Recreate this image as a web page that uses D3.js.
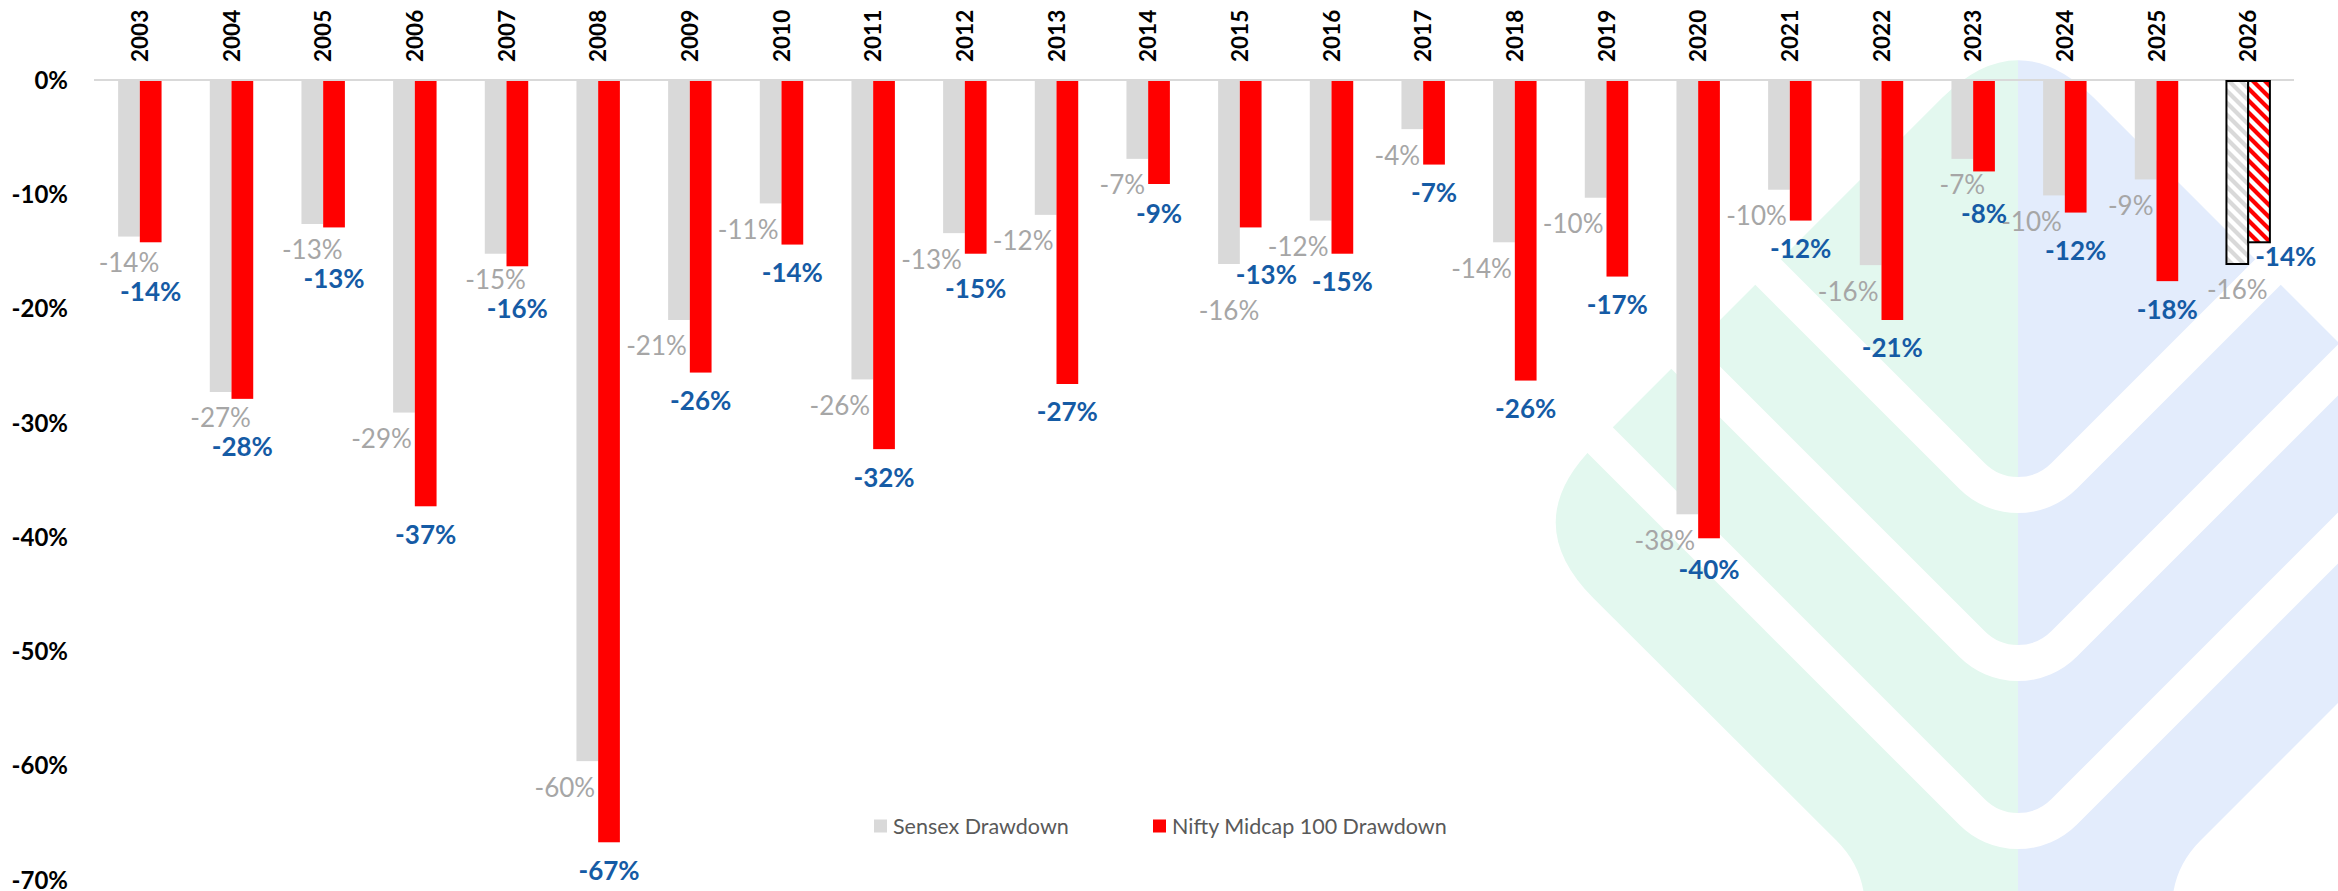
<!DOCTYPE html>
<html><head><meta charset="utf-8">
<script src="https://cdn.jsdelivr.net/npm/d3@7"></script>
<style>
html,body{margin:0;padding:0;background:#fff;}
svg{display:block;font-family:Lato,"Open Sans",sans-serif;}
</style></head><body>
<svg id="chart" width="2338" height="891"></svg>
<script>
// ---------------- data ----------------
const years = ["2003","2004","2005","2006","2007","2008","2009","2010","2011","2012","2013","2014",
               "2015","2016","2017","2018","2019","2020","2021","2022","2023","2024","2025","2026"];
const sensexDrawdown = [-13.7,-27.3,-12.6,-29.1,-15.2,-59.6,-21.0,-10.8,-26.2,-13.4,-11.8,-6.9,
                        -16.1,-12.3,-4.3,-14.2,-10.3,-38.0,-9.6,-16.2,-6.9,-10.1,-8.7,-16.1];
const midcapDrawdown = [-14.2,-27.9,-12.9,-37.3,-16.3,-66.7,-25.6,-14.4,-32.3,-15.2,-26.6,-9.1,
                        -12.9,-15.2,-7.4,-26.3,-17.2,-40.1,-12.3,-21.0,-8.0,-11.6,-17.6,-14.2];
const yTicks = [0,-10,-20,-30,-40,-50,-60,-70];
const seriesNames = ["Sensex Drawdown","Nifty Midcap 100 Drawdown"];
const partialYears = ["2026"];

// ---------------- setup ----------------
const svg = d3.select("#chart");
const defs = svg.append("defs");
const pct = v => `${Math.round(v)}%`;

// ---------------- watermark (decorative logo) ----------------
function roundedPath(pts){
  const n = pts.length; const seg = [];
  for(let i=0;i<n;i++){
    const [vx,vy,r] = pts[i];
    const p = pts[(i-1+n)%n], q = pts[(i+1)%n];
    const l1 = Math.hypot(p[0]-vx,p[1]-vy), l2 = Math.hypot(q[0]-vx,q[1]-vy);
    seg.push({a:[vx+(p[0]-vx)/l1*r, vy+(p[1]-vy)/l1*r], b:[vx+(q[0]-vx)/l2*r, vy+(q[1]-vy)/l2*r], v:[vx,vy]});
  }
  let d = `M${seg[0].b[0]},${seg[0].b[1]}`;
  for(let i=1;i<=n;i++){
    const s = seg[i%n];
    d += `L${s.a[0]},${s.a[1]}Q${s.v[0]},${s.v[1]} ${s.b[0]},${s.b[1]}`;
  }
  return d + "Z";
}
const logoPts = [[2018,22,108],[2518.5,522.5,108],[2172,869,40],[2172,1100,0],
                 [1865,1100,0],[1865,869,40],[1517.5,522.5,108]];
defs.append("clipPath").attr("id","logoClip").append("path").attr("d",roundedPath(logoPts));
const wm = svg.append("g").attr("class","watermark");
const wmc = wm.append("g").attr("clip-path","url(#logoClip)");
wmc.append("rect").attr("x",1400).attr("y",0).attr("width",618).attr("height",891).attr("fill","#e3f8ef");
wmc.append("rect").attr("x",2018).attr("y",0).attr("width",400).attr("height",891).attr("fill","#e3ecfc");
const rV = 65, L = 700, s2 = Math.SQRT2;
[522,690,858].forEach(A=>{
  const d = `M${2018-L},${A-L}L${2018-rV/s2},${A-rV/s2}A${rV},${rV} 0 0 0 ${2018+rV/s2},${A-rV/s2}L${2018+L},${A-L}`;
  wm.append("path").attr("d",d).attr("fill","none").attr("stroke","#fff").attr("stroke-width",36);
});

// ---------------- scales ----------------
const x = d3.scaleBand().domain(years).range([94,2294]).paddingInner(0).paddingOuter(0);
const barW = x.bandwidth()*0.237;
const xs = d3.scaleBand().domain(["sensex","midcap"]).range([-barW,barW]);
const y = d3.scaleLinear().domain([-70,0]).range([880,80]);

// patterns for partial year
function hatch(id,color){
  const p = defs.append("pattern").attr("id",id).attr("patternUnits","userSpaceOnUse")
    .attr("width",12).attr("height",12);
  p.append("rect").attr("width",12).attr("height",12).attr("fill","#fff");
  p.append("path").attr("d","M-6,6L6,18M0,0L12,12M6,-6L18,6")
    .attr("stroke",color).attr("stroke-width",4.2);
}
hatch("hatchGray","#d9d9d9");
hatch("hatchRed","#ff0000");

// zero line
svg.append("line").attr("x1",x.range()[0]).attr("x2",x.range()[1])
  .attr("y1",y(0)).attr("y2",y(0)).attr("stroke","#d9d9d9").attr("stroke-width",2);

// y axis
const yAxis = svg.append("g").attr("transform","translate(68,0)")
  .call(d3.axisLeft(y).tickValues(yTicks).tickFormat(d=>`${d}%`).tickSize(0).tickPadding(0));
yAxis.select(".domain").remove();
yAxis.selectAll("text").attr("font-family","Lato, sans-serif").attr("font-size",24)
  .attr("font-weight","bold").attr("fill","#000").attr("dy","0.34em");

// x axis (year labels, rotated, at top)
const xAxis = svg.append("g").attr("transform","translate(0,62)")
  .call(d3.axisTop(x).tickSize(0).tickPadding(0));
xAxis.select(".domain").remove();
xAxis.selectAll("text").attr("x",0).attr("y",0).attr("dy","0.36em")
  .attr("transform","rotate(-90)").style("text-anchor","start")
  .attr("font-family","Lato, sans-serif").attr("font-size",22.5).attr("font-weight","bold").attr("fill","#000");

// bars
const rows = years.map((yr,i)=>({yr, sensex:sensexDrawdown[i], midcap:midcapDrawdown[i], partial: partialYears.includes(yr)}));
const cx = yr => x(yr)+x.bandwidth()/2;
const barsG = svg.append("g");
const series = [
  {key:"sensex", color:"#d9d9d9", pat:"url(#hatchGray)"},
  {key:"midcap", color:"#ff0000", pat:"url(#hatchRed)"}
];
series.forEach(s=>{
  barsG.selectAll(null).data(rows).join("rect")
    .attr("x",d=>cx(d.yr)+xs(s.key))
    .attr("y",y(0)+1)
    .attr("width",barW)
    .attr("height",d=>y(d[s.key])-y(0)-1)
    .attr("fill",d=>d.partial? s.pat : s.color)
    .attr("stroke",d=>d.partial? "#000":"none")
    .attr("stroke-width",d=>d.partial? 2:0);
});

// data labels: pass 1 (Sensex labels, default placement)
const labG = svg.append("g").attr("font-family","Lato, sans-serif").attr("font-size",26);
const hT = 19;
const info = rows.map(d=>{
  const c = cx(d.yr);
  const gL = c+xs("sensex"), gR = gL+barW, rL = c+xs("midcap"), rR = rL+barW;
  const gB = y(d.sensex), rB = y(d.midcap);
  const gt = labG.append("text").text(pct(d.sensex)).attr("fill","#a6a6a6")
    .attr("text-anchor","middle").attr("dy","0.36em");
  const gw = gt.node().getComputedTextLength();
  let gcx = (gL+gR)/2, gcy = gB+26;
  if (gcy - hT/2 < rB && gcx + gw/2 > rL) gcx = rL - 3 - gw/2;
  return {d,gL,gR,rL,rR,gB,rB,gt,gw,gcx,gcy};
});
const overlap = (ax,ay,aw,bx,by,bw) => Math.abs(ax-bx) < (aw+bw)/2 && Math.abs(ay-by) < hT+2;

// pass 2 (Midcap labels, avoiding bars and neighbouring labels)
info.forEach((o,i)=>{
  const bt = labG.append("text").text(pct(o.d.midcap)).attr("fill","#155ba5")
    .attr("font-weight","bold").attr("text-anchor","middle").attr("dy","0.36em");
  const bw = bt.node().getComputedTextLength();
  let bcx = (o.rL+o.rR)/2, bcy;
  if (o.rB < o.gB) {
    // try placing just below the red bar, right of the grey bar
    let tx = bcx, ty = o.rB + 14;
    if (ty - hT/2 < o.gB && tx - bw/2 < o.gR) tx = o.gR + 7 + bw/2;
    const nxt = info[i+1];
    if (!nxt || !overlap(tx,ty,bw,nxt.gcx,nxt.gcy,nxt.gw)) { bcx = tx; bcy = ty; }
    else {
      bcy = Math.max(o.rB + 28, o.gB + hT/2 + 1);
      bcx = Math.max(bcx, o.gR - 4 + bw/2);
      if (overlap(bcx,bcy,bw,o.gcx,o.gcy,o.gw)) o.gcy = bcy + 36;
    }
  } else {
    bcy = o.rB + 28;
    if (Math.abs(bcx-o.gcx) < (bw+o.gw)/2 && bcy - o.gcy < hT+10) bcy = o.gcy + 29;
  }
  bt.attr("x",bcx).attr("y",bcy);
  o.gt.attr("x",o.gcx).attr("y",o.gcy);
});

// legend
const legend = svg.append("g").attr("font-family","Lato, sans-serif").attr("font-size",21.5).attr("fill","#595959");
const legX = [874,1153];
const legColors = ["#d9d9d9","#ff0000"];
const li = legend.selectAll("g").data(seriesNames).join("g")
  .attr("transform",(d,i)=>`translate(${legX[i]},826)`);
li.append("rect").attr("x",0).attr("y",-6.5).attr("width",13).attr("height",13).attr("fill",(d,i)=>legColors[i]);
li.append("text").attr("x",19).attr("y",0).attr("dy","0.35em").text(d=>d);
</script>
</body></html>
